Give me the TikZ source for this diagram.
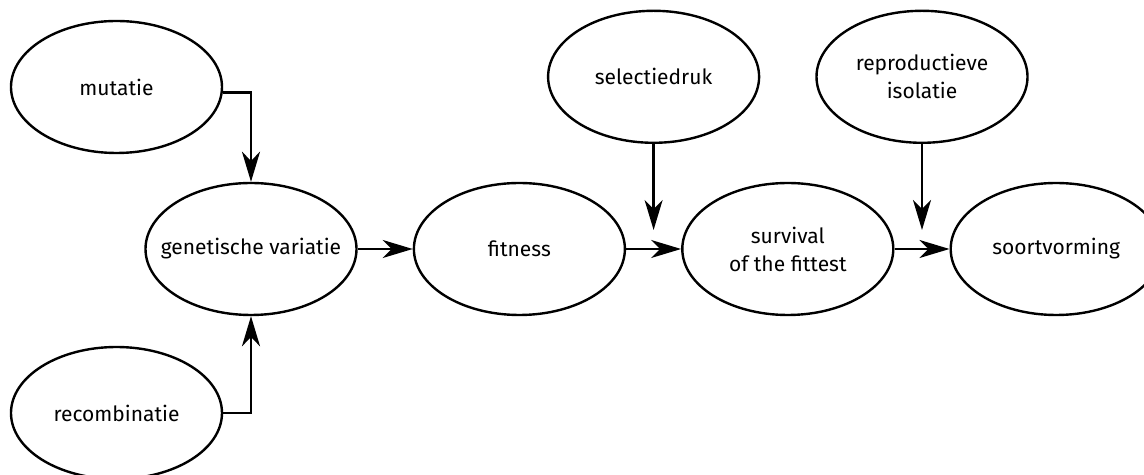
\documentclass[tikz,border=0pt]{standalone}
\usepackage{fontspec}
\setmainfont{Fira Sans}
\usetikzlibrary{positioning,calc,arrows.meta,shapes.geometric}

\begin{document}
\begin{tikzpicture}[
    ellip/.style={ellipse, draw, line width=1.2pt, minimum width=105.5pt, minimum height=66pt,
        label={[txt]center:#1}},
    txt/.style={align=center, font=\fontsize{10.5}{14}\selectfont},
    arrow/.style={-{Stealth[length=15pt, width=9pt, inset=4.5pt]}, line width=1.2pt}
]
    \useasboundingbox (-125.5pt,-113pt) rectangle (446.5pt,124.5pt);

    % main row
    \node[ellip={genetische variatie}] (gen) at (0,0) {};
    \node[ellip=fitness, right=27.5pt of gen] (fit) {};
    \node[ellip={survival\\of the fittest}, right=27.5pt of fit] (surv) {};
    \node[ellip=soortvorming, right=27.5pt of surv] (soort) {};

    % inputs on the left
    \node[ellip=mutatie] (mut) at ($(gen)+(-67.25pt,81pt)$) {};
    \node[ellip=recombinatie] (recomb) at ($(gen)+(-67.25pt,-82pt)$) {};

    % inputs from above
    \coordinate (j1) at ($($(fit.east)!0.5!(surv.west)$)+(0,9.5pt)$);
    \coordinate (j2) at ($($(surv.east)!0.5!(soort.west)$)+(0,9.5pt)$);
    \node[ellip=selectiedruk, above=43pt of j1] (sel) {};
    \node[ellip={reproductieve\\isolatie}, above=43pt of j2] (repro) {};

    \draw[arrow] (mut.-3) -| (gen.north);
    \draw[arrow] (recomb.east) -| (gen.south);
    \draw[arrow] (gen) -- (fit);
    \draw[arrow] (fit) -- (surv);
    \draw[arrow] (surv) -- (soort);
    \draw[arrow] (sel) -- (j1);
    \draw[arrow] (repro) -- (j2);
\end{tikzpicture}
\end{document}
